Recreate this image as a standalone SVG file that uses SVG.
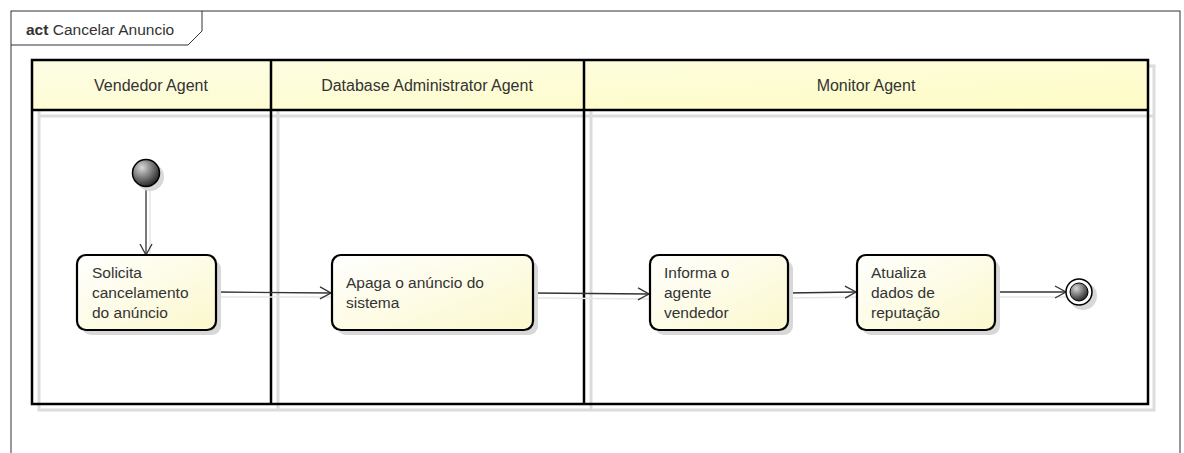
<svg xmlns="http://www.w3.org/2000/svg" width="1184" height="453" viewBox="0 0 1184 453">
<defs>
<linearGradient id="hdr" x1="0" y1="0" x2="1" y2="1">
<stop offset="0" stop-color="#fdfde6"/><stop offset="1" stop-color="#fefcc4"/>
</linearGradient>
<linearGradient id="act" x1="0" y1="0" x2="1" y2="1">
<stop offset="0" stop-color="#ffffff"/><stop offset="1" stop-color="#fbf8cc"/>
</linearGradient>
<radialGradient id="ball" cx="0.35" cy="0.3" r="0.75">
<stop offset="0" stop-color="#d8d8d8"/><stop offset="1" stop-color="#202020"/>
</radialGradient>
<marker id="arr" markerWidth="14" markerHeight="14" refX="12" refY="7" orient="auto" markerUnits="userSpaceOnUse">
<path d="M1,1 L12,7 L1,13" fill="none" stroke="#333" stroke-width="1.3"/>
</marker>
<style>
text{font-family:"Liberation Sans",Arial,sans-serif;font-size:15.5px;fill:#333}
.hd{font-size:16px}
.lane{fill:none;stroke:#000;stroke-width:2.5}
.shadow{fill:none;stroke:#dcdcdc;stroke-width:3}
.node{fill:url(#act);stroke:#000;stroke-width:2.2}
.nshadow{fill:#d8d8d8}
.conn{fill:none;stroke:#333;stroke-width:1.3}
.cshadow{fill:none;stroke:#e6e6e6;stroke-width:1.5}
</style>
</defs>
<rect width="1184" height="453" fill="#fff"/>
<g id="frame">
<rect x="11" y="11" width="1169" height="460" fill="none" stroke="#333" stroke-width="1"/>
<path d="M11,45 L188,45 L202,31 L202,11" fill="none" stroke="#333" stroke-width="1"/>
<text x="26" y="35" font-size="15"><tspan font-weight="bold">act</tspan> Cancelar Anuncio</text>
</g>
<g id="lanes">
<rect class="shadow" x="39" y="66" width="1115" height="344"/>
<line class="shadow" x1="278" y1="66" x2="278" y2="410"/>
<line class="shadow" x1="591" y1="66" x2="591" y2="410"/>
<line class="shadow" x1="39" y1="116" x2="1154" y2="116"/>
<rect x="32" y="60" width="1116" height="50" fill="url(#hdr)"/>
<rect class="lane" x="32" y="60" width="1116" height="344"/>
<line class="lane" x1="32" y1="110" x2="1148" y2="110"/>
<line class="lane" x1="271" y1="60" x2="271" y2="404"/>
<line class="lane" x1="584" y1="60" x2="584" y2="404"/>
<text class="hd" x="151" y="91" text-anchor="middle">Vendedor Agent</text>
<text class="hd" x="427" y="91" text-anchor="middle">Database Administrator Agent</text>
<text class="hd" x="866" y="91" text-anchor="middle">Monitor Agent</text>
</g>
<g id="connectors">
<line class="cshadow" x1="150" y1="190" x2="150" y2="258"/>
<line class="cshadow" x1="220" y1="297" x2="334" y2="297"/>
<line class="cshadow" x1="537" y1="298" x2="652" y2="299"/>
<line class="cshadow" x1="792" y1="298" x2="858" y2="297"/>
<line class="cshadow" x1="999" y1="297" x2="1068" y2="297"/>
<line class="conn" x1="146" y1="187" x2="146" y2="255" marker-end="url(#arr)"/>
<line class="conn" x1="216" y1="292" x2="331" y2="293" marker-end="url(#arr)"/>
<line class="conn" x1="533" y1="293" x2="649" y2="294" marker-end="url(#arr)"/>
<line class="conn" x1="788" y1="293" x2="856" y2="292" marker-end="url(#arr)"/>
<line class="conn" x1="995" y1="292" x2="1066" y2="292" marker-end="url(#arr)"/>
</g>
<g id="start">
<circle cx="150" cy="177" r="14" fill="#d8d8d8"/>
<circle cx="146" cy="173" r="13.5" fill="url(#ball)" stroke="#000" stroke-width="1.5"/>
</g>
<g id="solicita">
<rect class="nshadow" x="82" y="260" width="139" height="75" rx="9"/>
<rect class="node" x="77" y="255" width="139" height="75" rx="9"/>
<text x="92" y="278">Solicita</text>
<text x="92" y="298">cancelamento</text>
<text x="92" y="318">do anúncio</text>
</g>
<g id="apaga">
<rect class="nshadow" x="337" y="260" width="201" height="75" rx="9"/>
<rect class="node" x="332" y="255" width="201" height="75" rx="9"/>
<text x="346" y="288">Apaga o anúncio do</text>
<text x="346" y="308">sistema</text>
</g>
<g id="informa">
<rect class="nshadow" x="655" y="260" width="138" height="75" rx="9"/>
<rect class="node" x="650" y="255" width="138" height="75" rx="9"/>
<text x="664" y="278">Informa o</text>
<text x="664" y="298">agente</text>
<text x="664" y="318">vendedor</text>
</g>
<g id="atualiza">
<rect class="nshadow" x="862" y="260" width="138" height="75" rx="9"/>
<rect class="node" x="857" y="255" width="138" height="75" rx="9"/>
<text x="871" y="278">Atualiza</text>
<text x="871" y="298">dados de</text>
<text x="871" y="318">reputação</text>
</g>
<g id="end">
<circle cx="1083" cy="296" r="14" fill="#d8d8d8"/>
<circle cx="1079" cy="292" r="13" fill="#fff" stroke="#000" stroke-width="1.5"/>
<circle cx="1079" cy="292" r="9" fill="url(#ball)" stroke="#000" stroke-width="1"/>
</g>
</svg>
